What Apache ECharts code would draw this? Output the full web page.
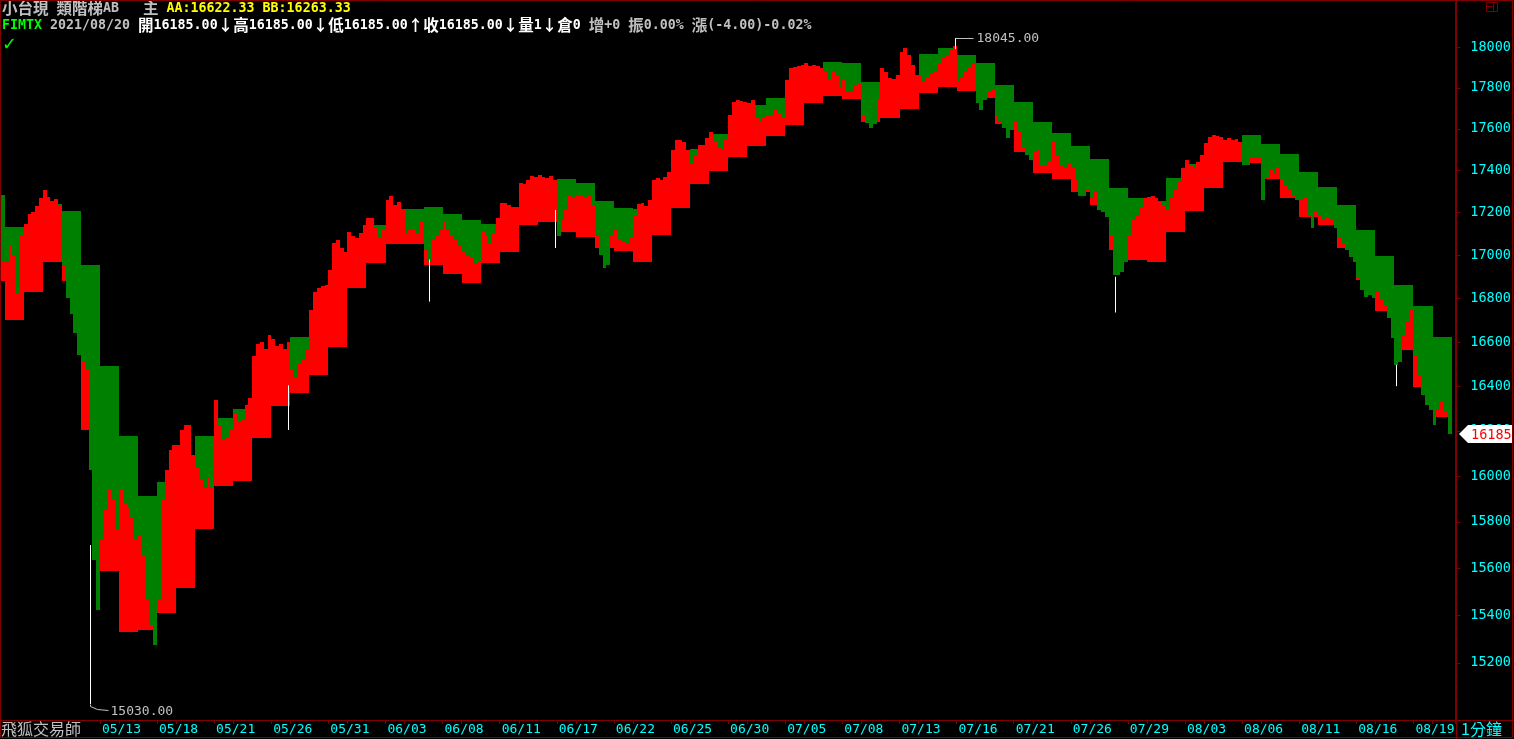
<!DOCTYPE html>
<html>
<head>
<meta charset="utf-8">
<title>小台現 類階梯AB</title>
<script src="https://cdn.jsdelivr.net/npm/echarts@6.0.0/dist/echarts.min.js"></script>
<style>
html,body{margin:0;padding:0;background:#000;overflow:hidden;}
#chart{width:1514px;height:739px;}
</style>
</head>
<body>
<div id="chart"></div>
<script>
// ================= DATA =================
const tradingDays = ['05/05','05/06','05/07','05/10','05/11','05/12','05/13','05/14','05/17','05/18','05/19','05/20','05/21','05/24','05/25','05/26','05/27','05/28','05/31',
'06/01','06/02','06/03','06/04','06/07','06/08','06/09','06/10','06/11','06/15','06/16','06/17','06/18','06/21','06/22','06/23','06/24','06/25','06/28','06/29','06/30',
'07/01','07/02','07/05','07/06','07/07','07/08','07/09','07/12','07/13','07/14','07/15','07/16','07/19','07/20','07/21','07/22','07/23','07/26','07/27','07/28','07/29','07/30',
'08/02','08/03','08/04','08/05','08/06','08/09','08/10','08/11','08/12','08/13','08/16','08/17','08/18','08/19','08/20'];

// sampled closes within each trading day
const dayCloses = [
[16969],
[16969,17044,17001,16825,17095],[17147,17193,17203,17231,17269],[17307,17274,17255,17265,17231],[16955,16802,16728,16641,16541],
[16510,16473,16027,15636,15423],[15722,15852,15940,15896,15766],[15940,15883,15861,15822,15722],[15744,15658,15466,15360,15276],
[15466,15896,16027,16116,16138],[16138,16204,16226,16226,16094],[16041,15983,15953,15992,15948],[16338,16226,16160,16173,16204],
[16280,16240,16249,16316,16347],[16537,16591,16600,16568,16632],[16614,16582,16591,16568,16600],[16473,16442,16500,16519,16564],
[16747,16830,16848,16857,16862],[16932,17058,17072,17034,17016],[17109,17090,17081,17104,17142],[17175,17175,17128,17081,17118],
[17260,17279,17236,17250,17212],[17100,17123,17118,17104,17156],[17025,16969,17072,17090,17118],[17156,17118,17090,17072,17048],
[17020,17001,16987,16960,16969],[17109,17090,17058,17104,17175],[17246,17246,17236,17227,17227],[17341,17336,17355,17374,17369],
[17379,17369,17364,17374,17355],[17090,17165,17212,17284,17274],[17284,17279,17274,17284,17236],[17095,17001,16941,16955,17095],
[17118,17072,17062,17058,17081],[17189,17241,17246,17231,17260],[17355,17364,17355,17369,17393],[17499,17547,17547,17537,17499],
[17436,17475,17523,17523,17556],[17585,17537,17508,17499,17547],[17667,17731,17740,17736,17731],[17726,17740,17653,17638,17657],
[17667,17667,17692,17672,17653],[17838,17897,17902,17907,17912],[17921,17907,17912,17907,17897],[17877,17838,17877,17857,17799],
[17838,17779,17779,17808,17818],[17667,17628,17604,17624,17740],[17897,17877,17848,17838,17862],[17975,17995,17961,17912,17862],
[17862,17828,17853,17867,17877],[17921,17946,17961,17985,18005],[17828,17848,17877,17897,17916],[17726,17692,17740,17779,17789],
[17667,17633,17604,17556,17595],[17633,17585,17508,17475,17450],[17489,17499,17427,17422,17441],[17537,17475,17427,17417,17436],
[17412,17355,17279,17279,17307],[17269,17298,17212,17203,17179],[17095,16909,16909,16923,16969],[17095,17165,17189,17222,17269],
[17274,17279,17269,17250,17236],[17212,17269,17307,17345,17412],[17450,17427,17412,17441,17475],[17532,17561,17571,17566,17561],
[17547,17556,17547,17551,17537],[17427,17427,17460,17465,17460],[17260,17364,17403,17388,17412],[17355,17326,17307,17284,17260],
[17260,17269,17189,17128,17203],[17189,17165,17179,17165,17128],[17081,17053,17025,16992,16969],[16899,16839,16806,16816,16802],
[16830,16793,16770,16710,16618],[16496,16510,16632,16692,16747],[16541,16451,16361,16316,16294],[16226,16294,16329,16285,16185]
];

// ladder upper level (AA) per trading day
const dayAA = [17284,
17133,17118,17241,17208,16955,16491,16177,15914,15975,16027,16177,16258,16298,16428,16519,16623,16701,16885,17001,17142,
17217,17217,17228,17193,17165,17147,17203,17317,17307,17360,17341,17255,17222,17217,17307,17450,17503,17575,17604,17716,
17750,17765,17862,17926,17921,17828,17843,17828,17966,17995,17961,17921,17813,17731,17633,17580,17518,17455,17317,17269,
17255,17364,17431,17499,17508,17571,17527,17479,17393,17322,17236,17118,16997,16863,16765,16622.33];

// ladder lower level (BB) per trading day
const dayBB = [16881,
16701,16830,16969,16881,16204,15589,15330,15339,15410,15517,15770,15957,15979,16169,16313,16371,16452,16577,16848,16965,
17051,17051,16957,16913,16872,16962,17015,17142,17156,17109,17086,17034,17020,16969,17095,17222,17336,17398,17465,17518,
17566,17619,17725,17760,17745,17633,17653,17697,17774,17803,17784,17750,17624,17489,17388,17360,17298,17236,17025,16978,
16969,17109,17208,17317,17441,17436,17360,17269,17179,17142,17034,16885,16742,16564,16396,16263.33];

const dateLabels = ['05/13','05/18','05/21','05/26','05/31','06/03','06/08','06/11','06/17','06/22','06/25','06/30',
'07/05','07/08','07/13','07/16','07/21','07/26','07/29','08/03','08/06','08/11','08/16','08/19'];

const yTickValues = [15200,15400,15600,15800,16000,16200,16400,16600,16800,17000,17200,17400,17600,17800,18000];
const priceRange = [14964, 18224];

// [sample index, low, high] white shadow lines
const wicks = [[23,15030,15700],[75,16204,16404],[112,16785,16980],[145,17034,17212],[250,17990,18045],[292,16735,16900],[366,16400,16496]];
// [sample index, price, kind]
const extremes = [[250,18045,'high'],[23,15030,'low']];

const productName = '小台現', indicatorName = '類階梯AB', contractCode = 'FIMTX', quoteDate = '2021/08/20';
const quoteOpen = '16185.00', quoteHigh = '16185.00', quoteLow = '16185.00', quoteClose = '16185.00';
const quoteVol = '1', quoteOI = '0', quoteOIChg = '+0', quoteAmp = '0.00%', quoteChg = '(-4.00)-0.02%';
const footerName = '飛狐交易師', periodName = '1分鐘';

// ================= BUILD =================
const samples = [], sampleDate = [], firstOfDay = {};
let g = 0;
dayCloses.forEach((arr, d) => {
  firstOfDay[tradingDays[d]] = g;
  arr.forEach(c => {
    samples.push([g, Math.log(c), Math.log(dayAA[d]), Math.log(dayBB[d])]);
    sampleDate.push(tradingDays[d]);
    g++;
  });
});
const lastIndex = g - 1;
const categories = [];
for (let i = 0; i <= g; i++) categories.push(String(i)); // one empty slot at the right edge
sampleDate.push('');

const labelSet = new Set(), tickSet = new Set();
dateLabels.forEach(dl => {
  const di = tradingDays.indexOf(dl);
  labelSet.add(firstOfDay[dl]);
  tickSet.add(firstOfDay[dl]);
  if (di + 1 < tradingDays.length) tickSet.add(firstOfDay[tradingDays[di + 1]]);
});

const minorTicks = [];
for (let v = 15000; v <= 18200; v += 50) if (v % 200 !== 0) minorTicks.push(Math.log(v));

const DARKRED = '#800000';
const MONO = "'DejaVu Sans Mono', monospace";
const CJK = "'Noto Sans CJK TC', sans-serif";

// header rich text
const palette = {W: '#ffffff', G: '#c0c0c0', Y: '#ffff00', N: '#00ff00'};
const rich = {};
Object.keys(palette).forEach(k => {
  rich['a' + k] = {fontFamily: MONO, fontSize: 13.3, color: palette[k], lineHeight: 17};
  rich['c' + k] = {fontFamily: CJK, fontSize: 15.5, color: palette[k], lineHeight: 17};
});
function richLine(segs) {
  let out = '';
  segs.forEach(([t, col]) => {
    (t.match(/[\u0000-\u00ff]+|[^\u0000-\u00ff]+/g) || []).forEach(r => {
      const kind = /[\u0000-\u00ff]/.test(r[0]) ? 'a' : 'c';
      out += '{' + kind + col + '|' + r + '}';
    });
  });
  return out;
}
const lastAA = dayAA[dayAA.length - 1].toFixed(2), lastBB = dayBB[dayBB.length - 1].toFixed(2);
const header1 = richLine([[productName + ' ' + indicatorName, 'G'], ['   主 ', 'G'], ['AA:' + lastAA + ' BB:' + lastBB, 'Y']]);
const header2 = richLine([[contractCode, 'N'], [' ' + quoteDate + ' ', 'G'],
  ['開' + quoteOpen + '↓高' + quoteHigh + '↓低' + quoteLow + '↑收' + quoteClose + '↓量' + quoteVol + '↓倉' + quoteOI, 'W'],
  [' 增' + quoteOIChg + ' 振' + quoteAmp + ' 漲' + quoteChg, 'G']]);

const chart = echarts.init(document.getElementById('chart'), null, {renderer: 'canvas'});

function renderLadder(params, api) {
  const idx = api.value(0);
  const c = api.coord([idx, api.value(1)]);
  const w = api.size([1, 0])[0];
  const x0 = Math.round(c[0] - w / 2), x1 = Math.round(c[0] + w / 2);
  const yc = Math.round(c[1]);
  const ya = Math.round(api.coord([idx, api.value(2)])[1]);
  const yb = Math.round(api.coord([idx, api.value(3)])[1]);
  const children = [];
  if (yc > ya) children.push({type: 'rect', shape: {x: x0, y: ya, width: x1 - x0, height: yc - ya}, style: {fill: '#008000'}});
  if (yc < yb) children.push({type: 'rect', shape: {x: x0, y: yc, width: x1 - x0, height: yb - yc}, style: {fill: '#ff0000'}});
  return {type: 'group', children};
}
function renderWick(params, api) {
  const idx = api.value(0);
  const p1 = api.coord([idx, api.value(1)]);
  const p2 = api.coord([idx, api.value(2)]);
  const x = Math.round(p1[0]) + 0.5;
  return {type: 'line', shape: {x1: x, y1: p1[1], x2: x, y2: p2[1]}, style: {stroke: '#ffffff', lineWidth: 1}};
}
function renderExtreme(params, api) {
  const idx = api.value(0);
  const p = api.coord([idx, api.value(1)]);
  const x = Math.round(p[0]) + 0.5, y = Math.round(p[1]) + 0.5;
  const item = extremes[params.dataIndex];
  const txt = item[1].toFixed(2);
  if (item[2] === 'high') {
    return {type: 'group', children: [
      {type: 'polyline', shape: {points: [[x, y], [x + 18, y]]}, style: {stroke: '#c0c0c0', lineWidth: 1, fill: null}},
      {type: 'text', x: x + 21, y: y, style: {text: txt, fill: '#c0c0c0', font: '13px ' + MONO, verticalAlign: 'middle', align: 'left'}}
    ]};
  }
  return {type: 'group', children: [
    {type: 'polyline', shape: {points: [[x, y], [x, y + 2], [x + 7, y + 5], [x + 18, y + 6]]}, style: {stroke: '#c0c0c0', lineWidth: 1, fill: null}},
    {type: 'text', x: x + 20, y: y + 7, style: {text: txt, fill: '#c0c0c0', font: '13px ' + MONO, verticalAlign: 'middle', align: 'left'}}
  ]};
}
function renderTag(params, api) {
  const p = api.coord([api.value(0), api.value(1)]);
  const y = Math.round(p[1]);
  const xr = api.getWidth() - 58; // y axis line
  return {type: 'group', children: [
    {type: 'polygon', shape: {points: [[xr + 3, y], [xr + 12, y - 9], [xr + 57, y - 9], [xr + 57, y + 9], [xr + 12, y + 9]]}, style: {fill: '#ffffff'}},
    {type: 'text', x: xr + 15, y: y + 1, style: {text: String(Math.round(Math.exp(api.value(1)))), fill: '#ff0000', font: '13.5px ' + MONO, verticalAlign: 'middle', align: 'left'}}
  ]};
}

const option = {
  animation: false,
  backgroundColor: '#000000',
  title: {
    text: header1 + '\n' + header2,
    left: 2, top: 0, padding: 0,
    textStyle: {rich: rich, lineHeight: 17}
  },
  grid: {left: 1, right: 58, top: 2, bottom: 19, containLabel: false},
  xAxis: {
    type: 'category', data: categories, boundaryGap: true,
    axisLine: {show: true, lineStyle: {color: DARKRED, width: 1}},
    axisTick: {show: true, length: 4, interval: (i) => tickSet.has(i), lineStyle: {color: DARKRED}},
    axisLabel: {show: true, interval: (i) => labelSet.has(i), formatter: (v, i) => sampleDate[i],
      color: '#00ffff', align: 'left', margin: 3, fontFamily: MONO, fontSize: 13},
    splitLine: {show: false}
  },
  yAxis: [{
    type: 'value', position: 'right', scale: true,
    min: Math.log(priceRange[0]), max: Math.log(priceRange[1]),
    axisLine: {show: true, lineStyle: {color: DARKRED, width: 1}},
    axisTick: {show: true, length: 5, customValues: yTickValues.map(Math.log), lineStyle: {color: DARKRED}},
    axisLabel: {show: true, customValues: yTickValues.map(Math.log), formatter: v => String(Math.round(Math.exp(v))),
      color: '#00ffff', margin: 15, fontFamily: MONO, fontSize: 13.5},
    splitLine: {show: false}
  }, {
    type: 'value', position: 'right', scale: true,
    min: Math.log(priceRange[0]), max: Math.log(priceRange[1]),
    axisLine: {show: false},
    axisTick: {show: true, length: 2, customValues: minorTicks, lineStyle: {color: DARKRED}},
    axisLabel: {show: false},
    splitLine: {show: false}
  }],
  series: [{
    type: 'custom', name: 'ladder', renderItem: renderLadder, data: samples,
    encode: {x: 0, y: 1}, clip: true, z: 2
  }, {
    type: 'custom', name: 'wicks', renderItem: renderWick, data: wicks.map(w => [w[0], Math.log(w[1]), Math.log(w[2])]),
    encode: {x: 0, y: 1}, clip: true, z: 3
  }, {
    type: 'custom', name: 'extremes', renderItem: renderExtreme, data: extremes.map(e => [e[0], Math.log(e[1])]),
    encode: {x: 0, y: 1}, clip: false, z: 4
  }, {
    type: 'custom', name: 'lastTag', renderItem: renderTag, data: [[lastIndex, samples[lastIndex][1]]],
    encode: {x: 0, y: 1}, clip: false, z: 5
  }],
  graphic: [
    {type: 'rect', shape: {x: 0.5, y: 0.5, width: 1512, height: 737}, style: {fill: null, stroke: DARKRED, lineWidth: 1}, z: 10},
    {type: 'line', shape: {x1: 0, y1: 720.5, x2: 1514, y2: 720.5}, style: {stroke: DARKRED, lineWidth: 1}, z: 10},
    {type: 'line', shape: {x1: 1456.5, y1: 0, x2: 1456.5, y2: 739}, style: {stroke: DARKRED, lineWidth: 1}, z: 10},
    {type: 'rect', shape: {x: 1486.5, y: 2.5, width: 11, height: 9}, style: {fill: null, stroke: DARKRED, lineWidth: 1}, z: 10},
    {type: 'line', shape: {x1: 1486, y1: 6.5, x2: 1493, y2: 6.5}, style: {stroke: DARKRED, lineWidth: 1}, z: 10},
    {type: 'line', shape: {x1: 1493.5, y1: 2, x2: 1493.5, y2: 12}, style: {stroke: DARKRED, lineWidth: 1}, z: 10},
    {type: 'text', x: 2, y: 45, style: {text: '✓', fill: '#00ff00', font: 'bold 18px DejaVu Sans', verticalAlign: 'middle'}, z: 10},
    {type: 'text', x: 1, y: 729, style: {text: footerName, fill: '#c0c0c0', font: '16px ' + CJK, verticalAlign: 'middle'}, z: 10},
    {type: 'text', x: 1461, y: 729, style: {text: periodName, fill: '#00ffff', font: '16px ' + CJK, verticalAlign: 'middle'}, z: 10}
  ]
};
chart.setOption(option);
</script>
</body>
</html>
